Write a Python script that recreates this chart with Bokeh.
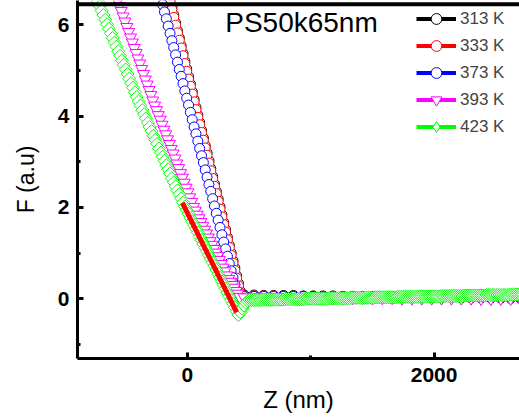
from math import pi

from bokeh.plotting import figure
from bokeh.models import Range1d, SingleIntervalTicker, Label, Legend, LegendItem
from bokeh.embed import file_html
from bokeh.resources import INLINE

FONT = "Liberation Sans"

# ---------------- approach curves: Z (nm) vs F (a.u.) ----------------
z_313 = [-140, -125, -110, -95, -80, -65, -50, -35, -20, -5, 10, 25, 40, 55, 70, 85,
         100, 115, 130, 145, 160, 175, 190, 205, 220, 235, 250, 265, 280, 295, 310,
         325, 340, 355, 370, 385, 400, 415, 430]
f_313 = [6.55, 6.38, 6.21, 6.04, 5.87, 5.71, 5.54, 5.37, 5.20, 5.03, 4.86, 4.70, 4.53,
         4.36, 4.19, 4.02, 3.86, 3.69, 3.52, 3.35, 3.19, 3.02, 2.85, 2.68, 2.51, 2.35,
         2.18, 2.01, 1.84, 1.67, 1.51, 1.34, 1.17, 1.00, 0.83, 0.67, 0.50, 0.33, 0.16]

z_333 = [-140, -125, -110, -95, -80, -65, -50, -35, -20, -5, 10, 25, 40, 55, 70, 85,
         100, 115, 130, 145, 160, 175, 190, 205, 220, 235, 250, 265, 280, 295, 310,
         325, 340, 355, 370, 385, 400, 415, 430]
f_333 = [6.50, 6.33, 6.16, 5.99, 5.82, 5.66, 5.49, 5.32, 5.15, 4.98, 4.81, 4.65, 4.48,
         4.31, 4.14, 3.97, 3.81, 3.64, 3.47, 3.30, 3.14, 2.97, 2.80, 2.63, 2.46, 2.30,
         2.13, 1.96, 1.79, 1.62, 1.46, 1.29, 1.12, 0.95, 0.78, 0.62, 0.45, 0.28, 0.11]

z_373 = [-200, -185, -170, -155, -140, -125, -110, -95, -80, -65, -50, -35, -20, -5,
         10, 25, 40, 55, 70, 85, 100, 115, 130, 145, 160, 175, 190, 205, 220, 235, 250,
         265, 280, 295, 310, 325, 340, 355, 370, 385, 400, 415, 430]
f_373 = [6.44, 6.28, 6.13, 5.97, 5.81, 5.65, 5.50, 5.34, 5.18, 5.02, 4.87, 4.71, 4.55,
         4.39, 4.24, 4.08, 3.92, 3.76, 3.61, 3.45, 3.29, 3.13, 2.98, 2.82, 2.66, 2.50,
         2.35, 2.19, 2.03, 1.87, 1.72, 1.56, 1.40, 1.24, 1.09, 0.93, 0.77, 0.61, 0.46,
         0.31, 0.18, 0.09, 0.06]

z_393 = [-565, -550, -535, -520, -505, -490, -475, -460, -445, -430, -415, -400, -385,
         -370, -355, -340, -325, -310, -295, -280, -265, -250, -235, -220, -205, -190,
         -175, -160, -145, -130, -115, -100, -85, -70, -55, -40, -25, -10, 5, 20, 35,
         50, 65, 80, 95, 110, 125, 140, 155, 170, 185, 200, 215, 230, 245, 260, 275,
         290, 305, 320, 335, 350, 365, 380, 395, 410, 425]
f_393 = [6.53, 6.41, 6.30, 6.18, 6.07, 5.95, 5.84, 5.72, 5.61, 5.49, 5.38, 5.26, 5.15,
         5.03, 4.92, 4.80, 4.69, 4.57, 4.46, 4.34, 4.23, 4.13, 4.02, 3.92, 3.81, 3.70,
         3.60, 3.49, 3.39, 3.28, 3.18, 3.07, 2.96, 2.86, 2.75, 2.65, 2.54, 2.43, 2.33,
         2.22, 2.12, 2.01, 1.93, 1.84, 1.76, 1.68, 1.59, 1.51, 1.43, 1.34, 1.26, 1.18,
         1.09, 1.01, 0.93, 0.85, 0.76, 0.68, 0.60, 0.51, 0.43, 0.37, 0.30, 0.24, 0.17,
         0.11, 0.04]

z_423 = [-725, -710, -695, -680, -665, -650, -635, -620, -605, -590, -575, -560, -545,
         -530, -515, -500, -485, -470, -455, -440, -425, -410, -395, -380, -365, -350,
         -335, -320, -305, -290, -275, -260, -245, -230, -215, -200, -185, -170, -155,
         -140, -125, -110, -95, -80, -65, -50, -35, -20, -5, 10, 25, 40, 55, 70, 85,
         100, 115, 130, 145, 160, 175, 190, 205, 220, 235, 250, 265, 280, 295, 310, 325,
         340, 355, 370, 385, 400, 415, 430, 445, 460, 475, 490, 505]
f_423 = [6.51, 6.41, 6.31, 6.21, 6.11, 6.01, 5.91, 5.81, 5.71, 5.61, 5.52, 5.42, 5.32,
         5.22, 5.12, 5.02, 4.92, 4.82, 4.72, 4.62, 4.52, 4.42, 4.32, 4.23, 4.13, 4.04,
         3.95, 3.85, 3.76, 3.67, 3.57, 3.48, 3.39, 3.29, 3.20, 3.11, 3.02, 2.92, 2.83,
         2.74, 2.64, 2.55, 2.46, 2.37, 2.29, 2.20, 2.11, 2.02, 1.94, 1.86, 1.77, 1.69,
         1.61, 1.53, 1.45, 1.36, 1.28, 1.20, 1.12, 1.04, 0.95, 0.87, 0.79, 0.71, 0.63,
         0.54, 0.46, 0.38, 0.30, 0.22, 0.13, 0.05, -0.03, -0.11, -0.19, -0.28, -0.36,
         -0.30, -0.22, -0.15, -0.09, -0.05, -0.03]

# ---------------- non-contact (flat) part ----------------
z_flat = [460, 540, 620, 700, 780, 860, 940, 1020, 1100, 1180, 1260, 1340, 1420, 1500,
          1580, 1660, 1740, 1820, 1900, 1980, 2060, 2140, 2220, 2300, 2380, 2460, 2540,
          2620, 2700, 2780]
f_313_flat = [0.08, 0.08, 0.07, 0.07, 0.07, 0.07, 0.06, 0.06, 0.06, 0.06, 0.05, 0.05,
              0.05, 0.05, 0.04, 0.04, 0.04, 0.04, 0.03, 0.03, 0.03, 0.03, 0.02, 0.02,
              0.02, 0.02, 0.01, 0.01, 0.01, 0.00]
f_333_flat = [0.06, 0.06, 0.06, 0.06, 0.05, 0.05, 0.05, 0.05, 0.05, 0.05, 0.04, 0.04,
              0.04, 0.04, 0.04, 0.03, 0.03, 0.03, 0.03, 0.03, 0.03, 0.02, 0.02, 0.02,
              0.02, 0.02, 0.02, 0.01, 0.01, 0.01]
f_373_flat = [0.05, 0.05, 0.05, 0.05, 0.05, 0.05, 0.05, 0.05, 0.04, 0.04, 0.04, 0.04,
              0.04, 0.04, 0.04, 0.04, 0.03, 0.03, 0.03, 0.03, 0.03, 0.03, 0.03, 0.03,
              0.02, 0.02, 0.02, 0.02, 0.02, 0.02]
f_393_flat = [0.03, 0.03, 0.03, 0.03, 0.03, 0.03, 0.03, 0.03, 0.02, 0.02, 0.02, 0.02,
              0.02, 0.02, 0.02, 0.02, 0.01, 0.01, 0.01, 0.01, 0.01, 0.01, 0.01, 0.01,
              0.00, 0.00, 0.00, 0.00, 0.00, 0.00]

z_423_flat = [520, 535, 550, 565, 580, 595, 610, 625, 640, 655, 670, 685, 700, 715, 730,
              745, 760, 775, 790, 805, 820, 835, 850, 865, 880, 895, 910, 925, 940, 955,
              970, 985, 1000, 1015, 1030, 1045, 1060, 1075, 1090, 1105, 1120, 1135, 1150,
              1165, 1180, 1195, 1210, 1225, 1240, 1255, 1270, 1285, 1300, 1315, 1330,
              1345, 1360, 1375, 1390, 1405, 1420, 1435, 1450, 1465, 1480, 1495, 1510,
              1525, 1540, 1555, 1570, 1585, 1600, 1615, 1630, 1645, 1660, 1675, 1690,
              1705, 1720, 1735, 1750, 1765, 1780, 1795, 1810, 1825, 1840, 1855, 1870,
              1885, 1900, 1915, 1930, 1945, 1960, 1975, 1990, 2005, 2020, 2035, 2050,
              2065, 2080, 2095, 2110, 2125, 2140, 2155, 2170, 2185, 2200, 2215, 2230,
              2245, 2260, 2275, 2290, 2305, 2320, 2335, 2350, 2365, 2380, 2395, 2410,
              2425, 2440, 2455, 2470, 2485, 2500, 2515, 2530, 2545, 2560, 2575, 2590,
              2605, 2620, 2635, 2650, 2665, 2680, 2695, 2710, 2725]
f_423_flat = ([-0.03] * 6 + [-0.02] * 12 + [-0.01] * 12 + [0.00] * 12 + [0.01] * 12
              + [0.02] * 13 + [0.03] * 12 + [0.04] * 12 + [0.05] * 12 + [0.06] * 12
              + [0.07] * 12 + [0.08] * 13 + [0.09] * 8)

# linear fit of the 423 K contact region
fit_z = [-40, 400]
fit_f = [2.10, -0.30]

labels = ["313 K", "333 K", "373 K", "393 K", "423 K"]
colors = ["#000000", "#ff0000", "#0000ff", "#ff00ff", "#00ff00"]

series = [
    (z_313 + z_flat, f_313 + f_313_flat),
    (z_333 + z_flat, f_333 + f_333_flat),
    (z_373 + z_flat, f_373 + f_373_flat),
    (z_393 + z_flat, f_393 + f_393_flat),
    (z_423 + z_423_flat, f_423 + f_423_flat),
]

X_LO, X_HI = -890, 2692
Y_LO, Y_TOP = -1.31, 6.53
p = figure(width=519, height=417, output_backend="svg", toolbar_location=None,
           x_range=Range1d(X_LO, X_HI), y_range=Range1d(Y_LO, Y_TOP),
           min_border_left=77, min_border_right=0, min_border_top=0,
           min_border_bottom=59)
p.outline_line_color = None
p.xgrid.visible = False
p.ygrid.visible = False
p.background_fill_color = "white"
p.border_fill_color = "white"

items = []
for (zs, fs), lab, col in zip(series, labels, colors):
    ln = p.line(zs, fs, line_color=col, line_width=4)
    if lab == "393 K":
        sc = p.scatter(zs, fs, marker="inverted_triangle", size=12,
                       fill_color="white", line_color=col, line_width=1)
        legend_r = [ln, sc]
    elif lab == "423 K":
        sc = p.scatter(zs, fs, marker="square", angle=pi / 4, size=9.2,
                       fill_color="white", line_color=col, line_width=1)
        key = p.scatter([float("nan")], [float("nan")], marker="diamond", size=12,
                        fill_color="white", line_color=col, line_width=1)
        legend_r = [ln, key]
    else:
        sc = p.scatter(zs, fs, marker="circle", size=10,
                       fill_color="white", line_color=col, line_width=1)
        legend_r = [ln, sc]
    items.append(LegendItem(label=lab, renderers=legend_r))

p.line(fit_z, fit_f, line_color="#ff0000", line_width=5)

# upper frame line, running across the whole x range a little under the top edge
TOP_LINE = Y_TOP - 0.08
p.line([X_LO, X_HI], [TOP_LINE, TOP_LINE], line_color="black", line_width=4)

# axes
xax = p.below[0]
yax = p.left[0]
xax.ticker = SingleIntervalTicker(interval=2000, num_minor_ticks=2)
yax.ticker = SingleIntervalTicker(interval=2, num_minor_ticks=2)
xax.axis_label = "Z (nm)"
yax.axis_label = "F (a.u)"
for ax in (xax, yax):
    ax.axis_line_width = 3
    ax.major_tick_line_width = 3
    ax.minor_tick_line_width = 3
    ax.major_tick_in = 6
    ax.major_tick_out = 0
    ax.minor_tick_in = 3
    ax.minor_tick_out = 0
    ax.major_label_text_font = FONT
    ax.major_label_text_font_style = "bold"
    ax.major_label_text_font_size = "21px"
    ax.major_label_text_color = "black"
    ax.axis_label_text_font = FONT
    ax.axis_label_text_font_style = "normal"
    ax.axis_label_text_color = "black"
xax.major_label_standoff = 9
yax.major_label_standoff = 8
xax.axis_label_text_font_size = "24px"
yax.axis_label_text_font_size = "23px"
xax.axis_label_standoff = 1
yax.axis_label_standoff = 16

p.add_layout(Label(x=307, y=6.05, text="PS50k65nm", text_font=FONT,
                   text_font_size="28px", text_baseline="middle",
                   text_color="black"))

legend = Legend(items=items, location="top_right", margin=0, padding=5,
                glyph_width=40, glyph_height=27, spacing=-6, label_standoff=4,
                label_width=54, label_height=17, label_text_font=FONT,
                label_text_font_size="17px", background_fill_alpha=0,
                border_line_alpha=0)
p.add_layout(legend)

open("out.html", "w").write(file_html(p, INLINE))
